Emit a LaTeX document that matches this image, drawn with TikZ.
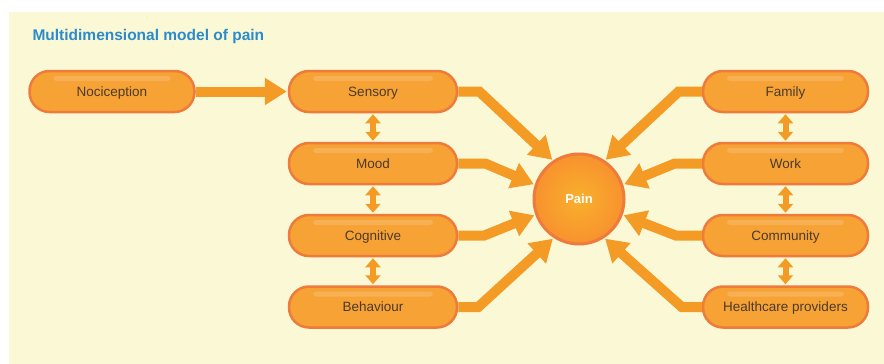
\documentclass[tikz,border=0pt]{standalone}
\usepackage{fontspec}
\setmainfont{Liberation Sans}
\usetikzlibrary{arrows.meta}
\definecolor{bgc}{HTML}{FBF8D6}
\definecolor{boxfill}{HTML}{F7A234}
\definecolor{boxline}{HTML}{EE7B3B}
\definecolor{arrc}{HTML}{F49B26}
\definecolor{titlec}{HTML}{2B8CCB}
\definecolor{txtc}{HTML}{4B3A2E}
\tikzset{
  pillbox/.style={draw=boxline, fill=boxfill, line width=2.5pt,
    rounded corners=20pt, minimum width=165pt, minimum height=41pt,
    inner sep=0pt, text=txtc, font=\fontsize{13.5}{16}\selectfont,
    text height=9.7pt, text depth=0pt,
    path picture={\fill[white,opacity=0.16,rounded corners=3pt]
      ([xshift=24pt,yshift=-5pt]path picture bounding box.north west) rectangle
      ([xshift=-24pt,yshift=-10pt]path picture bounding box.north east);}},
  painnode/.style={circle, draw=boxline, line width=3pt, inner color=boxfill!85!yellow, outer color=boxfill!90!red,
    minimum size=90pt, inner sep=0pt, text=white, font=\bfseries\fontsize{13}{15}\selectfont,
    text height=9.4pt, text depth=0pt},
  bigarrow/.style={draw=arrc, line width=10pt, -{Triangle[width=26pt,length=22pt]}, shorten >=1pt},
  dblarrow/.style={draw=arrc, line width=6pt, {Triangle[width=15pt,length=9pt]}-{Triangle[width=15pt,length=9pt]}, shorten >=1pt, shorten <=1pt}
}
\begin{document}
\begin{tikzpicture}[x=1pt,y=-1pt]
\useasboundingbox (0,0) rectangle (884,364);
\fill[white] (0,0) rectangle (884,364);
\fill[bgc] (9,12) rectangle (884,364);
\node[anchor=base west, text=titlec, font=\bfseries\fontsize{15.5}{18}\selectfont] (title) at (29,40) {Multidimensional model of pain};

\node[pillbox] (noci) at (112,91.5) {Nociception};
\node[pillbox, minimum width=168pt] (sens) at (373,91.5) {Sensory};
\node[pillbox, minimum width=168pt] (mood) at (373,163.5) {Mood};
\node[pillbox, minimum width=168pt] (cogn) at (373,235.5) {Cognitive};
\node[pillbox, minimum width=168pt] (beha) at (373,307) {Behaviour};
\node[pillbox] (fami) at (785.5,91.5) {Family};
\node[pillbox] (work) at (785.5,163.5) {Work};
\node[pillbox] (comm) at (785.5,235.5) {Community};
\node[pillbox] (heal) at (785.5,307) {Healthcare providers};
\node[painnode] (pain) at (579,199) {Pain};

\draw[bigarrow] (noci.east) -- (sens.west);

\draw[bigarrow] (sens.east) -- ++(21,0) -- (pain.124);
\draw[bigarrow] (mood.east) -- ++(27,0) -- (pain.162);
\draw[bigarrow] (cogn.east) -- ++(26,0) -- (pain.200);
\draw[bigarrow] (beha.east) -- ++(20,0) -- (pain.237);

\draw[bigarrow] (fami.west) -- ++(-23,0) -- (pain.56);
\draw[bigarrow] (work.west) -- ++(-27,0) -- (pain.18);
\draw[bigarrow] (comm.west) -- ++(-26,0) -- (pain.-20);
\draw[bigarrow] (heal.west) -- ++(-20,0) -- (pain.-57);

\draw[dblarrow] (sens.south) -- (mood.north);
\draw[dblarrow] (mood.south) -- (cogn.north);
\draw[dblarrow] (cogn.south) -- (beha.north);
\draw[dblarrow] (fami.south) -- (work.north);
\draw[dblarrow] (work.south) -- (comm.north);
\draw[dblarrow] (comm.south) -- (heal.north);
\end{tikzpicture}
\end{document}
